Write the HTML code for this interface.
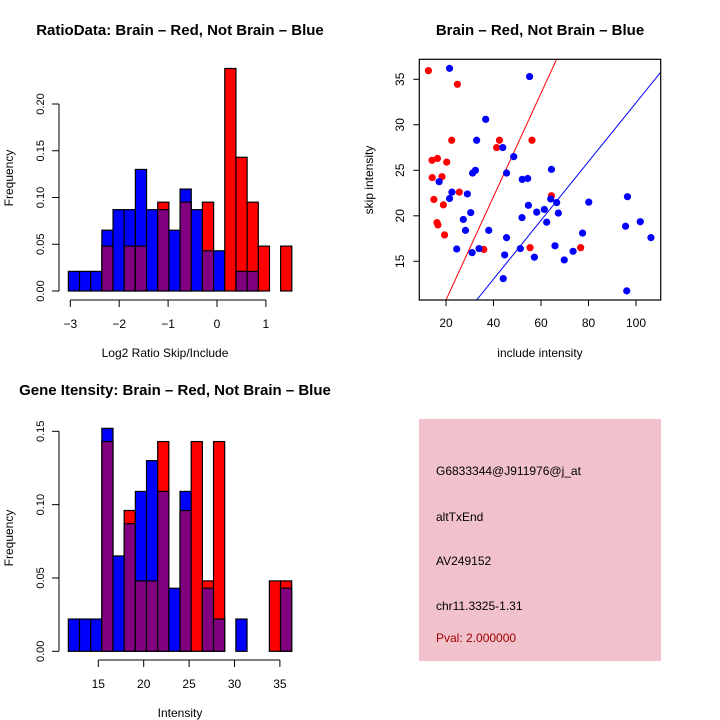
<!DOCTYPE html>
<html><head><meta charset="utf-8"><style>
body{margin:0;background:#fff}
svg{display:block;font-family:"Liberation Sans",sans-serif}
</style></head><body>
<svg id="c" width="720" height="720" xmlns="http://www.w3.org/2000/svg">
<rect width="720" height="720" fill="#fff"/>
<text x="180" y="35" text-anchor="middle" font-size="15" font-weight="bold">RatioData: Brain – Red, Not Brain – Blue</text>
<text x="540" y="35" text-anchor="middle" font-size="15" font-weight="bold">Brain – Red, Not Brain – Blue</text>
<text x="175" y="395" text-anchor="middle" font-size="15" font-weight="bold">Gene Itensity: Brain – Red, Not Brain – Blue</text>
<text x="165" y="357" text-anchor="middle" font-size="12">Log2 Ratio Skip/Include</text>
<text x="540" y="357" text-anchor="middle" font-size="12">include intensity</text>
<text x="180" y="717" text-anchor="middle" font-size="12">Intensity</text>
<text transform="translate(13,178) rotate(-90)" text-anchor="middle" font-size="12">Frequency</text>
<text transform="translate(373,180) rotate(-90)" text-anchor="middle" font-size="12">skip intensity</text>
<text transform="translate(13,538) rotate(-90)" text-anchor="middle" font-size="12">Frequency</text>
<g>
<rect x="419" y="419" width="242" height="242" fill="#f2c2cc"/>
<text x="436" y="475" font-size="12">G6833344@J911976@j_at</text>
<text x="436" y="521" font-size="12">altTxEnd</text>
<text x="436" y="565" font-size="12">AV249152</text>
<text x="436" y="610" font-size="12">chr11.3325-1.31</text>
<text x="436" y="642" font-size="12" fill="#a00000">Pval: 2.000000</text>
</g>
<g id="h1"></g><g id="sc"></g><g id="h2"></g>
</svg>
<script>
// Ratio histogram data
const ratioBlue=[0.021,0.021,0.021,0.065,0.087,0.087,0.13,0.087,0.087,0.065,0.109,0.087,0.043,0.043,0,0.021,0.021,0,0,0];
const ratioRed=[0,0,0,0.048,0,0.048,0.048,0,0.095,0,0.095,0,0.095,0,0.238,0.143,0.095,0.048,0,0.048];
const ratioXTicks=[-3,-2,-1,0,1];
const ratioYTicks=[0,0.05,0.10,0.15,0.20];
// Intensity histogram data
const intBlue=[0.022,0.022,0.022,0.152,0.065,0.087,0.109,0.13,0.109,0.043,0.109,0,0.043,0.022,0,0.022,0,0,0,0.043];
const intRed=[0,0,0,0.143,0,0.096,0.048,0.048,0.143,0,0.096,0.143,0.048,0.143,0,0,0,0,0.048,0.048];
const intXTicks=[15,20,25,30,35];
const intYTicks=[0,0.05,0.10,0.15];
// Scatter data
const redX=[12.6,24.8,14.1,16.4,20.3,22.4,14.2,18.3,14.9,18.9,25.6,16.2,16.6,19.4,35.9,42.5,41.3,56.2,55.4,64.4,76.7];
const redY=[35.95,34.45,26.1,26.3,25.9,28.3,24.2,24.3,21.8,21.2,22.6,19.25,19.0,17.9,16.3,28.3,27.5,28.3,16.5,22.2,16.5];
const blueX=[21.5,55.2,36.7,32.9,43.9,48.5,32.4,31.2,45.5,17.1,22.5,21.5,29.0,52.1,54.4,64.4,64.1,54.7,66.6,80.1,96.4,61.4,30.4,58.2,67.3,52.0,27.3,62.4,101.8,95.6,28.2,38.0,77.5,45.5,106.3,65.9,24.5,33.9,51.3,31.0,44.7,57.2,73.5,69.8,44.1,96.1];
const blueY=[36.2,35.3,30.6,28.3,27.5,26.5,25.0,24.7,24.7,23.75,22.6,21.9,22.4,24.0,24.1,25.1,21.85,21.15,21.45,21.5,22.1,20.7,20.35,20.4,20.3,19.8,19.6,19.3,19.35,18.85,18.4,18.4,18.1,17.6,17.6,16.7,16.35,16.4,16.4,15.95,15.7,15.45,16.1,15.15,13.1,11.75];
const scXTicks=[20,40,60,80,100];
const scYTicks=[15,20,25,30,35];
const redFit=[-0.61,0.568];
const blueFit=[0.12,0.323];

const NS="http://www.w3.org/2000/svg";
function mk(p,t,a){const e=document.createElementNS(NS,t);for(const k in a)e.setAttribute(k,a[k]);p.appendChild(e);return e;}

function hist(g,blue,red,x0,bw,xs,ys,xt,yt,axY,ylabX){
  const base=ys(0);
  for(let i=0;i<blue.length;i++){
    const b=blue[i],r=red[i];
    const xl=xs(x0+i*bw),xr=xs(x0+(i+1)*bw);
    const hi=Math.max(b,r),lo=Math.min(b,r);
    if(hi>0){
      const e=mk(g,'rect',{x:xl,y:ys(hi),width:xr-xl,height:base-ys(hi),fill:b>=r?'#0000ff':'#ff0000',stroke:'#000','stroke-width':1.2});
      
      
    }
    if(lo>0){
      const e=mk(g,'rect',{x:xl,y:ys(lo),width:xr-xl,height:base-ys(lo),fill:'#800080',stroke:'#000','stroke-width':1.2});
      
      
    }
  }
  const ya=mk(g,'line',{x1:59,x2:59,y1:ys(yt[0]),y2:ys(yt[yt.length-1]),stroke:'#000'});
  
  
  yt.forEach(v=>{
    mk(g,'line',{x1:52,x2:59,y1:ys(v),y2:ys(v),stroke:'#000'});
    const t=mk(g,'text',{transform:`translate(${ylabX},${ys(v)}) rotate(-90)`,'text-anchor':'middle','font-size':11});
    t.textContent=v.toFixed(2);
    
    
  });
  const xa=mk(g,'line',{x1:xs(xt[0]),x2:xs(xt[xt.length-1]),y1:axY,y2:axY,stroke:'#000'});
  
  
  xt.forEach(v=>{
    mk(g,'line',{x1:xs(v),x2:xs(v),y1:axY,y2:axY+7,stroke:'#000'});
    const t=mk(g,'text',{x:xs(v),y:axY+28,'text-anchor':'middle','font-size':12});
    t.textContent=v<0?'\u2212'+(-v):String(v);
    
    
  });
}

const g1=document.getElementById('h1');


hist(g1,ratioBlue,ratioRed,-3.04,0.2285,v=>70.3+(v+3)*48.9,v=>291-v*935,ratioXTicks,ratioYTicks,300,44);
const g2=document.getElementById('h2');


hist(g2,intBlue,intRed,11.7,1.23,v=>98.3+(v-15)*9.08,v=>651.3-v*1466.7,intXTicks,intYTicks,660,44);

const s=document.getElementById('sc');


const sx=v=>446+(v-20)*2.375, sy=v=>261.3-(v-15)*9.1;
const L=419.3,R=660.7,T=59.3,B=300;
const cp=mk(s,'clipPath',{id:'clp'});mk(cp,'rect',{x:L,y:T,width:R-L,height:B-T});
[[redFit,'#ff0000','red-fit-line'],[blueFit,'#0000ff','blue-fit-line']].forEach(([f,c,n])=>{
  const xa=5,xb=115;
  const l=mk(s,'line',{x1:sx(xa),y1:sy(f[0]+f[1]*xa),x2:sx(xb),y2:sy(f[0]+f[1]*xb),stroke:c,'stroke-width':1,'clip-path':'url(#clp)'});
  
  
});
redX.forEach((x,i)=>{const c=mk(s,'circle',{cx:sx(x),cy:sy(redY[i]),r:3.6,fill:'#ff0000'});
  
  });
blueX.forEach((x,i)=>{const c=mk(s,'circle',{cx:sx(x),cy:sy(blueY[i]),r:3.6,fill:'#0000ff'});
  
  });
const box=mk(s,'rect',{x:L,y:T,width:R-L,height:B-T,fill:'none',stroke:'#000','stroke-width':1.2});


scXTicks.forEach(v=>{mk(s,'line',{x1:sx(v),x2:sx(v),y1:B,y2:B+6,stroke:'#000'});
  const t=mk(s,'text',{x:sx(v),y:327,'text-anchor':'middle','font-size':12});t.textContent=v;
  
  });
scYTicks.forEach(v=>{mk(s,'line',{x1:L-6,x2:L,y1:sy(v),y2:sy(v),stroke:'#000'});
  const t=mk(s,'text',{transform:`translate(404,${sy(v)}) rotate(-90)`,'text-anchor':'middle','font-size':12});t.textContent=v;
  
  });
</script>
</body></html>
